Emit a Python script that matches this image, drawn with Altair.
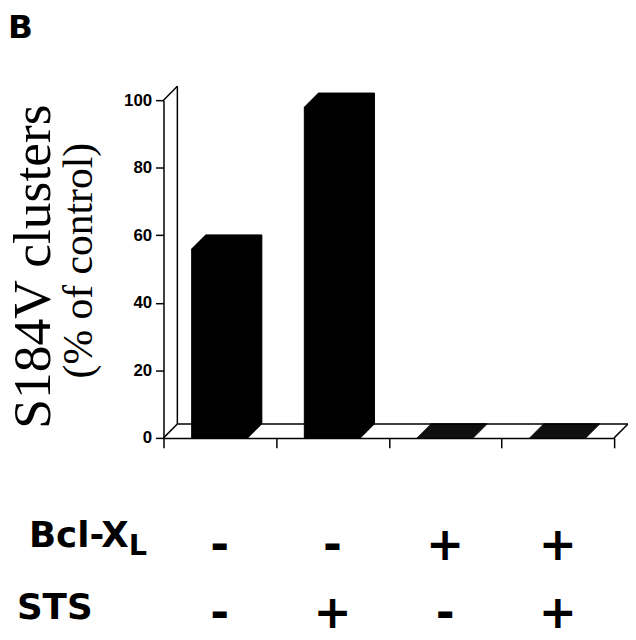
import altair as alt
import pandas as pd

# ---- data ----
conditions = ["Control", "STS", "Bcl-XL", "Bcl-XL + STS"]
clusters_pct = [56, 98, 0, 0]
bcl_xl_signs = ["-", "-", "+", "+"]
sts_signs = ["-", "+", "-", "+"]
y_ticks = [0, 20, 40, 60, 80, 100]

df = pd.DataFrame({"cond": conditions, "value": clusters_pct,
                   "bcl": bcl_xl_signs, "sts": sts_signs})

W, H = 455, 341
DX, DY = 14, -14  # 3-D depth

xscale = alt.Scale(domain=conditions, paddingInner=0, paddingOuter=0)
yscale = alt.Scale(domain=[0, 100])

x_enc = alt.X("cond:N", scale=xscale, sort=conditions,
              axis=alt.Axis(title=None, labels=False, ticks=True, tickBand="extent",
                            tickSize=10, tickWidth=1.5, tickColor="black",
                            domainColor="black", domainWidth=1.5, grid=False))
y_enc = alt.Y("value:Q", scale=yscale,
              axis=alt.Axis(title=None, values=y_ticks, grid=False, tickSize=8,
                            tickWidth=1.5, tickColor="black", domainColor="black",
                            domainWidth=1.5, labelFont="Liberation Sans",
                            labelFontWeight="bold", labelFontSize=17,
                            labelColor="black", labelPadding=4))

base = alt.Chart(df)
one = alt.Chart(pd.DataFrame({"k": [0]}))

rule_style = dict(color="black", strokeWidth=1.5)
# left wall back edge
wall_back = one.mark_rule(xOffset=DX, yOffset=DY, y2Offset=DY, **rule_style).encode(
    x=alt.value(0), y=alt.datum(0, scale=yscale), y2=alt.datum(100))
wall_top = one.mark_rule(x2Offset=DX, y2Offset=DY, **rule_style).encode(
    x=alt.value(0), x2=alt.value(0), y=alt.datum(100, scale=yscale), y2=alt.datum(100))
wall_bottom = one.mark_rule(x2Offset=DX, y2Offset=DY, **rule_style).encode(
    x=alt.value(0), x2=alt.value(0), y=alt.datum(0, scale=yscale), y2=alt.datum(0))
floor_back = one.mark_rule(xOffset=DX, x2Offset=DX, yOffset=DY, y2Offset=DY, **rule_style).encode(
    x=alt.value(0), x2=alt.value(W), y=alt.datum(0, scale=yscale))
floor_right = one.mark_rule(x2Offset=DX, y2Offset=DY, **rule_style).encode(
    x=alt.value(W), x2=alt.value(W), y=alt.datum(0, scale=yscale), y2=alt.datum(0))

bars = []
for k in range(0, 15):
    bars.append(base.mark_bar(color="black", stroke="black", strokeWidth=1,
                              width=alt.RelativeBandSize(0.5),
                              xOffset=k, x2Offset=k, yOffset=-k, y2Offset=-k)
                .encode(x=x_enc, y=y_enc))

sign_font = dict(font="DejaVu Sans", fontWeight="bold", fontSize=46, color="black",
                 align="center", baseline="alphabetic")
signs1 = base.mark_text(**sign_font).encode(x=alt.X("cond:N", scale=xscale, sort=conditions),
                                            y=alt.value(464), text="bcl:N")
signs2 = base.mark_text(**sign_font).encode(x=alt.X("cond:N", scale=xscale, sort=conditions),
                                            y=alt.value(533), text="sts:N")

def label(txt, x, y, **kw):
    return one.mark_text(**kw).encode(x=alt.value(x), y=alt.value(y), text=alt.value(txt))

lab_font = dict(font="DejaVu Sans", fontWeight="bold", color="black", baseline="alphabetic")
txt_B = label("B", -157, -63, fontSize=33, align="left", **lab_font)
txt_bcl = label("Bcl-X", -35, 451, fontSize=36, align="right", **lab_font)
txt_L = label("L", -35, 459, fontSize=29, align="left", **lab_font)
txt_sts = label("STS", -148, 524, fontSize=36, align="left", **lab_font)

serif = dict(font="Liberation Serif", color="black", angle=270, align="center",
             baseline="alphabetic")
title1 = label("S184V clusters", -115, 168, fontSize=54, **serif)
title2 = label("(% of control)", -72, 162, fontSize=42, **serif)

chart = alt.layer(
    wall_back, wall_top, wall_bottom, floor_back, floor_right,
    *bars, signs1, signs2, txt_B, txt_bcl, txt_L, txt_sts, title1, title2
).properties(
    width=W, height=H,
    background="white",
    autosize=alt.AutoSizeParams(type="none"),
    padding={"left": 157, "top": 90, "right": 14, "bottom": 201},
).configure_view(strokeWidth=0, stroke="transparent")

chart.save("out.html", embed_options={"renderer": "svg", "actions": False})
